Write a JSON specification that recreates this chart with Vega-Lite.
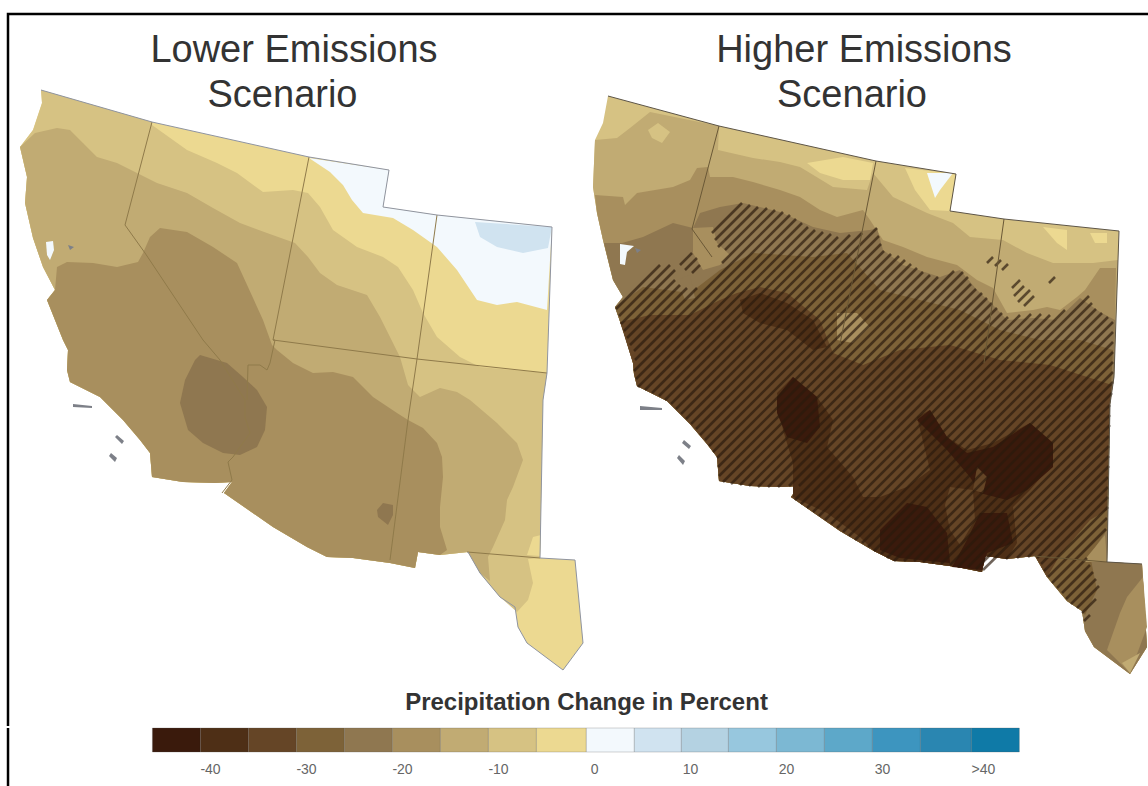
{"$schema":"https://vega.github.io/schema/vega-lite/v6.json","padding":0,"background":"white","spacing":0,"config":{"view":{"stroke":null},"font":"Liberation Sans"},"vconcat":[{"width":1148,"height":726,"projection":{"type":"identity","scale":1,"translate":[0,0]},"layer":[
{"data":{"values":[
{"type":"Feature","properties":{"map":"lower","band":"-5"},"geometry":{"type":"Polygon","coordinates":[[[41,90],[152,122],[309,157],[389,170],[383,207],[437,215],[552,227],[547,373],[543,400],[540,558],[575,560],[583,643],[563,670],[527,643],[518,627],[515,607],[500,597],[480,573],[468,552],[440,555],[418,552],[415,568],[390,563],[353,558],[327,557],[307,547],[273,527],[224,493],[232,482],[215,483],[183,482],[152,477],[150,453],[140,440],[123,420],[100,397],[70,382],[67,370],[68,350],[63,340],[47,300],[55,290],[43,267],[33,238],[25,203],[27,177],[20,147],[33,130],[42,103],[41,90]]]}},
{"type":"Feature","properties":{"map":"lower","band":"0"},"geometry":{"type":"Polygon","coordinates":[[[309,158],[330,172],[343,185],[352,200],[363,213],[393,218],[413,230],[437,247],[457,270],[477,300],[497,305],[517,302],[547,310],[552,227],[437,215],[383,207],[389,170],[309,158]]]}},
{"type":"Feature","properties":{"map":"lower","band":"5"},"geometry":{"type":"Polygon","coordinates":[[[475,222],[552,227],[548,248],[523,253],[497,247],[480,237],[475,222]]]}},
{"type":"Feature","properties":{"map":"lower","band":"-10"},"geometry":{"type":"Polygon","coordinates":[[[41,90],[152,122],[152,125],[187,150],[217,163],[237,173],[263,192],[293,190],[308,193],[320,207],[333,230],[357,247],[383,257],[398,267],[413,290],[423,313],[437,337],[460,357],[480,367],[547,373],[543,400],[540,558],[528,559],[533,583],[528,600],[517,612],[500,597],[480,573],[468,552],[440,555],[418,552],[415,568],[390,563],[353,558],[327,557],[307,547],[273,527],[224,493],[232,482],[215,483],[183,482],[152,477],[150,453],[140,440],[123,420],[100,397],[70,382],[67,370],[68,350],[63,340],[47,300],[55,290],[43,267],[33,238],[25,203],[27,177],[20,147],[33,130],[42,103],[41,90]]]}},
{"type":"Feature","properties":{"map":"lower","band":"-5"},"geometry":{"type":"Polygon","coordinates":[[[533,537],[527,555],[540,556],[541,535],[533,537]]]}},
{"type":"Feature","properties":{"map":"lower","band":"-15"},"geometry":{"type":"Polygon","coordinates":[[[35,133],[57,128],[70,130],[83,143],[97,157],[117,163],[137,173],[157,183],[187,193],[213,208],[240,223],[267,233],[295,243],[308,257],[320,273],[337,285],[367,295],[380,317],[393,343],[400,357],[408,385],[420,397],[440,388],[457,392],[470,400],[497,423],[517,443],[523,460],[513,487],[507,500],[505,520],[493,547],[488,557],[490,581],[480,573],[468,552],[440,555],[418,552],[415,568],[390,563],[353,558],[327,557],[307,547],[273,527],[224,493],[232,482],[215,483],[183,482],[152,477],[150,453],[140,440],[123,420],[100,397],[70,382],[67,370],[68,350],[63,340],[47,300],[55,290],[43,267],[33,238],[25,203],[27,177],[20,147],[35,133]]]}},
{"type":"Feature","properties":{"map":"lower","band":"-20"},"geometry":{"type":"Polygon","coordinates":[[[57,267],[67,262],[93,263],[117,267],[138,262],[143,253],[150,237],[160,228],[187,232],[213,247],[237,263],[248,287],[263,320],[272,345],[277,350],[293,363],[313,373],[333,372],[353,377],[373,397],[397,413],[408,420],[423,428],[437,443],[442,457],[443,477],[440,507],[440,527],[447,550],[440,555],[418,552],[415,568],[390,563],[353,558],[327,557],[307,547],[273,527],[224,493],[232,482],[215,483],[183,482],[152,477],[150,453],[140,440],[123,420],[100,397],[70,382],[67,370],[68,350],[63,340],[47,300],[55,290],[57,267]]]}},
{"type":"Feature","properties":{"map":"lower","band":"-25"},"geometry":{"type":"Polygon","coordinates":[[[200,355],[227,363],[243,377],[257,390],[267,407],[265,430],[257,447],[240,455],[223,453],[203,443],[188,430],[180,403],[185,380],[195,360],[200,355]]]}},
{"type":"Feature","properties":{"map":"lower","band":"-25"},"geometry":{"type":"Polygon","coordinates":[[[377,510],[383,503],[393,505],[393,515],[388,525],[378,517],[377,510]]]}},
{"type":"Feature","properties":{"map":"lower","band":"0"},"geometry":{"type":"Polygon","coordinates":[[[46,242],[53,241],[54,250],[50,260],[47,255],[46,242]]]}},

{"type":"Feature","properties":{"map":"higher","band":"-10"},"geometry":{"type":"Polygon","coordinates":[[[608,96],[719,126],[876,161],[956,174],[950,211],[1004,219],[1119,231],[1114,377],[1110,404],[1107,562],[1142,564],[1147,647],[1130,674],[1094,647],[1085,631],[1082,611],[1067,601],[1047,577],[1035,556],[1007,559],[985,556],[982,572],[957,567],[920,562],[894,561],[874,551],[840,531],[791,497],[799,486],[782,487],[750,486],[719,481],[717,457],[707,444],[690,424],[667,401],[637,386],[634,374],[633,363],[623,330],[615,307],[623,297],[613,280],[603,240],[597,213],[593,187],[595,140],[603,123],[608,96]]]}},
{"type":"Feature","properties":{"map":"higher","band":"-5"},"geometry":{"type":"Polygon","coordinates":[[[905,168],[956,174],[950,211],[930,210],[915,190],[905,168]]]}},
{"type":"Feature","properties":{"map":"higher","band":"-5"},"geometry":{"type":"Polygon","coordinates":[[[807,163],[843,157],[873,163],[870,180],[843,180],[820,173],[807,163]]]}},
{"type":"Feature","properties":{"map":"higher","band":"-5"},"geometry":{"type":"Polygon","coordinates":[[[1043,227],[1067,230],[1067,250],[1057,243],[1043,227]]]}},
{"type":"Feature","properties":{"map":"higher","band":"-5"},"geometry":{"type":"Polygon","coordinates":[[[1090,233],[1107,233],[1107,243],[1095,243],[1090,233]]]}},
{"type":"Feature","properties":{"map":"higher","band":"0"},"geometry":{"type":"Polygon","coordinates":[[[927,173],[953,173],[940,190],[935,198],[927,173]]]}},
{"type":"Feature","properties":{"map":"higher","band":"-15"},"geometry":{"type":"Polygon","coordinates":[[[595,140],[617,138],[630,128],[650,112],[719,126],[718,150],[753,158],[780,162],[800,167],[810,173],[833,187],[867,190],[873,173],[893,197],[927,213],[953,223],[970,237],[1003,240],[1027,253],[1053,263],[1093,263],[1118,260],[1114,377],[1110,404],[1107,562],[1142,564],[1147,647],[1130,674],[1094,647],[1085,631],[1082,611],[1067,601],[1047,577],[1035,556],[1007,559],[985,556],[982,572],[957,567],[920,562],[894,561],[874,551],[840,531],[791,497],[799,486],[782,487],[750,486],[719,481],[717,457],[707,444],[690,424],[667,401],[637,386],[634,374],[633,363],[623,330],[615,307],[623,297],[613,280],[603,240],[597,213],[593,187],[595,140]]]}},
{"type":"Feature","properties":{"map":"higher","band":"-10"},"geometry":{"type":"Polygon","coordinates":[[[648,130],[658,123],[670,132],[662,143],[652,138],[648,130]]]}},
{"type":"Feature","properties":{"map":"higher","band":"-20"},"geometry":{"type":"Polygon","coordinates":[[[595,195],[623,197],[625,205],[637,193],[673,187],[690,180],[697,168],[708,167],[710,177],[733,177],[753,182],[780,190],[800,197],[820,210],[837,217],[863,210],[870,220],[883,240],[903,247],[927,257],[957,265],[977,280],[993,288],[1007,313],[1033,310],[1047,307],[1060,310],[1077,297],[1085,290],[1100,268],[1116,268],[1114,377],[1110,404],[1107,562],[1142,564],[1147,647],[1130,674],[1094,647],[1085,631],[1082,611],[1067,601],[1047,577],[1035,556],[1007,559],[985,556],[982,572],[957,567],[920,562],[894,561],[874,551],[840,531],[791,497],[799,486],[782,487],[750,486],[719,481],[717,457],[707,444],[690,424],[667,401],[637,386],[634,374],[633,363],[623,330],[615,307],[623,297],[613,280],[603,240],[597,213],[595,195]]]}},
{"type":"Feature","properties":{"map":"higher","band":"-25"},"geometry":{"type":"Polygon","coordinates":[[[604,243],[622,243],[643,237],[673,223],[693,228],[700,213],[720,207],[743,203],[780,212],[813,227],[840,233],[870,230],[877,228],[883,250],[903,265],[940,277],[960,270],[977,290],[993,305],[1007,320],[1033,318],[1057,320],[1080,298],[1100,312],[1115,320],[1114,377],[1110,404],[1107,562],[1142,564],[1147,647],[1130,674],[1094,647],[1085,631],[1082,611],[1067,601],[1047,577],[1035,556],[1007,559],[985,556],[982,572],[957,567],[920,562],[894,561],[874,551],[840,531],[791,497],[799,486],[782,487],[750,486],[719,481],[717,457],[707,444],[690,424],[667,401],[637,386],[634,374],[633,363],[623,330],[615,307],[623,297],[613,280],[604,243]]]}},
{"type":"Feature","properties":{"map":"higher","band":"-20"},"geometry":{"type":"Polygon","coordinates":[[[693,228],[713,227],[717,243],[730,255],[720,265],[703,270],[693,253],[693,228]]]}},
{"type":"Feature","properties":{"map":"higher","band":"-30"},"geometry":{"type":"Polygon","coordinates":[[[615,307],[643,287],[690,293],[720,270],[753,253],[813,257],[847,253],[880,290],[920,300],[960,310],[1000,330],[1040,340],[1080,340],[1113,350],[1110,404],[1107,530],[1090,555],[1097,590],[1085,615],[1082,611],[1067,601],[1047,577],[1035,556],[1007,559],[985,556],[982,572],[957,567],[920,562],[894,561],[874,551],[840,531],[791,497],[799,486],[782,487],[750,486],[719,481],[717,457],[707,444],[690,424],[667,401],[637,386],[634,374],[633,363],[623,330],[615,307]]]}},
{"type":"Feature","properties":{"map":"higher","band":"-25"},"geometry":{"type":"Polygon","coordinates":[[[677,280],[690,275],[695,298],[685,300],[677,280]]]}},
{"type":"Feature","properties":{"map":"higher","band":"-35"},"geometry":{"type":"Polygon","coordinates":[[[620,322],[650,315],[690,315],[720,300],[737,293],[760,287],[787,293],[820,320],[833,353],[863,365],[900,350],[950,345],[1000,360],[1050,365],[1112,385],[1110,404],[1107,510],[1090,520],[1060,555],[1047,577],[1035,556],[1007,559],[985,556],[982,572],[957,567],[920,562],[894,561],[874,551],[840,531],[791,497],[799,486],[782,487],[750,486],[719,481],[717,457],[707,444],[690,424],[667,401],[637,386],[634,374],[633,363],[620,322]]]}},
{"type":"Feature","properties":{"map":"higher","band":"-20"},"geometry":{"type":"Polygon","coordinates":[[[837,313],[857,313],[870,327],[853,343],[837,340],[837,313]]]}},
{"type":"Feature","properties":{"map":"higher","band":"-40"},"geometry":{"type":"Polygon","coordinates":[[[740,300],[760,293],[787,303],[813,320],[827,347],[813,350],[787,330],[760,323],[743,313],[740,300]]]}},
{"type":"Feature","properties":{"map":"higher","band":"-40"},"geometry":{"type":"Polygon","coordinates":[[[777,393],[793,377],[817,397],[833,420],[827,447],[853,477],[863,497],[880,497],[907,487],[930,470],[917,417],[930,410],[947,437],[967,450],[993,443],[1030,423],[1053,443],[1053,463],[1030,490],[1013,507],[1017,543],[1007,559],[985,556],[982,572],[957,567],[920,562],[894,561],[874,551],[860,537],[827,513],[793,497],[793,463],[783,430],[777,393]]]}},
{"type":"Feature","properties":{"map":"higher","band":"-35"},"geometry":{"type":"Polygon","coordinates":[[[950,487],[973,490],[975,520],[960,545],[950,530],[945,505],[950,487]]]}},
{"type":"Feature","properties":{"map":"higher","band":"-45"},"geometry":{"type":"Polygon","coordinates":[[[777,397],[793,377],[817,397],[820,427],[807,443],[787,437],[777,413],[777,397]]]}},
{"type":"Feature","properties":{"map":"higher","band":"-45"},"geometry":{"type":"Polygon","coordinates":[[[917,420],[930,410],[947,437],[967,453],[993,447],[1030,423],[1053,443],[1053,467],[1027,490],[1007,500],[980,493],[970,477],[947,450],[917,420]]]}},
{"type":"Feature","properties":{"map":"higher","band":"-35"},"geometry":{"type":"Polygon","coordinates":[[[977,467],[987,477],[983,493],[973,490],[977,467]]]}},
{"type":"Feature","properties":{"map":"higher","band":"-45"},"geometry":{"type":"Polygon","coordinates":[[[880,530],[907,503],[927,507],[947,533],[950,563],[900,558],[880,550],[880,530]]]}},
{"type":"Feature","properties":{"map":"higher","band":"-45"},"geometry":{"type":"Polygon","coordinates":[[[980,513],[1007,513],[1013,543],[987,553],[982,570],[952,567],[967,540],[980,513]]]}},
{"type":"Feature","properties":{"map":"higher","band":"-20"},"geometry":{"type":"Polygon","coordinates":[[[1143,577],[1147,627],[1130,673],[1107,650],[1120,613],[1127,597],[1143,577]]]}},
{"type":"Feature","properties":{"map":"higher","band":"-15"},"geometry":{"type":"Polygon","coordinates":[[[1140,653],[1130,673],[1122,663],[1140,653]]]}},
{"type":"Feature","properties":{"map":"higher","band":"-20"},"geometry":{"type":"Polygon","coordinates":[[[1105,535],[1107,562],[1083,562],[1105,535]]]}},
{"type":"Feature","properties":{"map":"higher","band":"0"},"geometry":{"type":"Polygon","coordinates":[[[620,244],[634,246],[627,252],[625,265],[620,264],[620,244]]]}}
]},"mark":{"type":"geoshape","strokeWidth":0},"encoding":{"fill":{"field":"properties.band","type":"ordinal","legend":null,"scale":{"domain":["-45","-40","-35","-30","-25","-20","-15","-10","-5","0","5","10","15","20","25","30","35","40"],"range":["#3a1a0c","#4e2f16","#654526","#7d6238","#8f7750","#a88f5e","#c1ab73","#d6c283","#ecd991","#f3f9fd","#d0e3f0","#b4d2e2","#97c7de","#7cb8d3","#5da8c9","#3d95bf","#2a86b1","#0f7aa7"]}}}},
{"data":{"values":[{"type":"Feature","properties":{"layer":"significance hatching"},"geometry":{"type":"MultiLineString","coordinates":[[[616,309],[660,265]],[[619,316],[670,265]],[[621,324],[675,270]],[[680,265],[692,253]],[[712,233],[742,203]],[[624,331],[675,280]],[[685,270],[697,258]],[[715,240],[750,205]],[[627,338],[680,285]],[[692,273],[700,265]],[[718,247],[758,207]],[[630,345],[687,288]],[[725,250],[767,208]],[[634,351],[697,288]],[[722,263],[775,210]],[[635,360],[783,212]],[[634,371],[790,215]],[[636,379],[796,219]],[[638,387],[802,223]],[[645,390],[808,227]],[[652,393],[815,230]],[[659,396],[823,232]],[[665,400],[831,234]],[[671,404],[838,237]],[[676,409],[850,235]],[[681,414],[862,233]],[[686,419],[877,228]],[[691,424],[879,236]],[[696,429],[881,244]],[[700,435],[884,251]],[[705,440],[891,254]],[[709,446],[899,256]],[[713,452],[905,260]],[[717,458],[911,264]],[[718,467],[917,268]],[[719,476],[923,272]],[[723,482],[930,275]],[[731,484],[938,277]],[[740,485],[954,271]],[[749,486],[963,272]],[[758,487],[968,277]],[[768,487],[971,284]],[[778,487],[976,289]],[[789,486],[982,293]],[[799,486],[987,298]],[[795,500],[992,303]],[[801,504],[997,308]],[[807,508],[1002,313]],[[813,512],[1008,317]],[[819,516],[1020,315]],[[825,520],[1031,314]],[[831,524],[1041,314]],[[837,528],[1050,315]],[[843,532],[1065,310]],[[849,536],[1089,296]],[[855,540],[1092,303]],[[862,543],[1096,309]],[[868,547],[1102,313]],[[874,551],[1108,317]],[[881,554],[1113,322]],[[887,558],[1113,332]],[[894,561],[1113,342]],[[904,561],[1113,352]],[[914,561],[1113,362]],[[923,562],[1113,372]],[[932,563],[1113,382]],[[941,564],[1112,393]],[[950,565],[1110,405]],[[958,567],[1110,415]],[[968,567],[1110,425]],[[976,569],[1109,436]],[[983,570],[1109,446]],[[1006,559],[1109,456]],[[1017,558],[1109,466]],[[1028,557],[1108,477]],[[1037,558],[1108,487]],[[1041,564],[1108,497]],[[1044,571],[1108,507]],[[1048,577],[1107,518]],[[1052,583],[1106,529]],[[1057,588],[1087,558]],[[1062,593],[1090,565]],[[1066,599],[1093,572]],[[1071,604],[1096,579]],[[1077,608],[1099,586]],[[1082,613],[1096,599]],[[1084,621],[1090,615]],[[1012,288],[1020,280]],[[1014,296],[1024,286]],[[1018,302],[1030,290]],[[1024,306],[1034,296]],[[987,263],[993,257]],[[995,266],[1001,260]],[[1002,270],[1008,264]],[[1049,283],[1055,277]]]}}]},"mark":{"type":"geoshape","filled":false,"stroke":"#2b1a0e","strokeWidth":2.6,"strokeOpacity":0.68}},
{"data":{"values":[
{"type":"Feature","properties":{"style":"border lower"},"geometry":{"type":"MultiLineString","coordinates":[[[152,122],[125,225],[145,253],[203,340],[220,360],[245,400],[245,417],[250,433],[240,447],[233,457],[228,462],[232,480],[222,493]],[[309,157],[273,340],[275,340],[270,363],[267,370],[260,365],[248,365],[247,400]],[[273,340],[417,359],[547,373]],[[437,215],[417,359],[408,420],[390,560]],[[467,552],[540,558]]]}},
{"type":"Feature","properties":{"style":"border higher"},"geometry":{"type":"MultiLineString","coordinates":[[[719,126],[692,229],[712,257]],[[876,161],[840,344]],[[1004,219],[984,363]],[[1034,556],[1107,562]]]}},
{"type":"Feature","properties":{"style":"outline lower"},"geometry":{"type":"LineString","coordinates":[[41,90],[152,122],[309,157],[389,170],[383,207],[437,215],[552,227],[547,373],[543,400],[540,558],[575,560],[583,643],[563,670],[527,643],[518,627],[515,607],[500,597],[480,573],[468,552]]}},
{"type":"Feature","properties":{"style":"outline higher"},"geometry":{"type":"LineString","coordinates":[[608,96],[719,126],[876,161],[956,174],[950,211],[1004,219],[1119,231],[1114,377],[1110,404],[1107,562],[1142,564]]}}
]},"mark":{"type":"geoshape","filled":false,"strokeWidth":1},"encoding":{"stroke":{"field":"properties.style","type":"nominal","legend":null,"scale":{"domain":["border lower","border higher","outline lower","outline higher"],"range":["#8f7a4a","#6a5836","#8f94a0","#5d5548"]}}}},
{"data":{"values":[{"type":"Feature","properties":{"style":"frame"},"geometry":{"type":"LineString","coordinates":[[8,730],[8,14],[1148,14]]}}]},"mark":{"type":"geoshape","filled":false,"stroke":"#000000","strokeWidth":2.5}},
{"data":{"values":[
{"type":"Feature","properties":{"p":"islands"},"geometry":{"type":"MultiPolygon","coordinates":[[[[73,404],[92,406],[92,408],[73,407],[73,404]]],[[[117,435],[124,441],[122,444],[115,437],[117,435]]],[[[111,453],[117,458],[115,462],[109,456],[111,453]]],[[[640,406],[662,408],[662,410],[640,410],[640,406]]],[[[684,440],[691,446],[689,449],[682,443],[684,440]]],[[[679,455],[685,461],[683,465],[677,458],[679,455]]],[[[68,245],[74,247],[70,250],[68,245]]],[[[635,248],[641,250],[637,253],[635,248]]]]}}
]},"mark":{"type":"geoshape","fill":"#7d8088","strokeWidth":0}},
{"data":{"values":[
{"label":"Lower Emissions","lon":294,"lat":62},{"label":"Scenario","lon":282.5,"lat":107},{"label":"Higher Emissions","lon":864,"lat":62},{"label":"Scenario","lon":852,"lat":107}]},
"mark":{"type":"text","fontSize":38,"font":"Liberation Sans","color":"#333333","align":"center","baseline":"alphabetic"},"encoding":{"longitude":{"field":"lon","type":"quantitative"},"latitude":{"field":"lat","type":"quantitative"},"text":{"field":"label","type":"nominal"}}},
{"data":{"values":[{"label":"Precipitation Change in Percent","lon":586.5,"lat":710}]},
"mark":{"type":"text","fontSize":24,"fontWeight":"bold","font":"Liberation Sans","color":"#333333","align":"center","baseline":"alphabetic"},"encoding":{"longitude":{"field":"lon","type":"quantitative"},"latitude":{"field":"lat","type":"quantitative"},"text":{"field":"label","type":"nominal"}}}
]},
{"width":1148,"height":58,"layer":[
{"data":{"values":[{"band":"-45","from":-46,"to":-41,"row":"bar"},{"band":"-40","from":-41,"to":-36,"row":"bar"},{"band":"-35","from":-36,"to":-31,"row":"bar"},{"band":"-30","from":-31,"to":-26,"row":"bar"},{"band":"-25","from":-26,"to":-21,"row":"bar"},{"band":"-20","from":-21,"to":-16,"row":"bar"},{"band":"-15","from":-16,"to":-11,"row":"bar"},{"band":"-10","from":-11,"to":-6,"row":"bar"},{"band":"-5","from":-6,"to":-0.8,"row":"bar"},{"band":"0","from":-0.8,"to":4.2,"row":"bar"},{"band":"5","from":4.2,"to":9.1,"row":"bar"},{"band":"10","from":9.1,"to":14,"row":"bar"},{"band":"15","from":14,"to":19,"row":"bar"},{"band":"20","from":19,"to":24,"row":"bar"},{"band":"25","from":24,"to":29,"row":"bar"},{"band":"30","from":29,"to":34,"row":"bar"},{"band":"35","from":34,"to":39.3,"row":"bar"},{"band":"40","from":39.3,"to":44.3,"row":"bar"}]},
"mark":{"type":"rect","stroke":"#555555","strokeOpacity":0.25,"strokeWidth":1},
"encoding":{"x":{"field":"from","type":"quantitative","scale":{"domain":[-61.875,57.7],"nice":false,"zero":false},"axis":{"values":[-40,-30,-20,-10,0,10,20,30,40.5],"labelExpr":"datum.value>40?'>40':datum.value","domain":false,"ticks":false,"grid":false,"title":null,"labelFontSize":14,"labelColor":"#666666","labelPadding":6,"offset":-30,"labelFlush":false,"labelOverlap":false,"labelFont":"Liberation Sans"}},"x2":{"field":"to"},"y":{"field":"row","type":"nominal","axis":null,"scale":{"domain":["bar","labels"],"paddingInner":0.294,"paddingOuter":0}},"fill":{"field":"band","type":"ordinal","legend":null}}},
{"data":{"values":[{"frame":-61.04}]},"mark":{"type":"rule","color":"#000000","strokeWidth":2.5},"encoding":{"x":{"field":"frame","type":"quantitative"}}}
]}
]}
